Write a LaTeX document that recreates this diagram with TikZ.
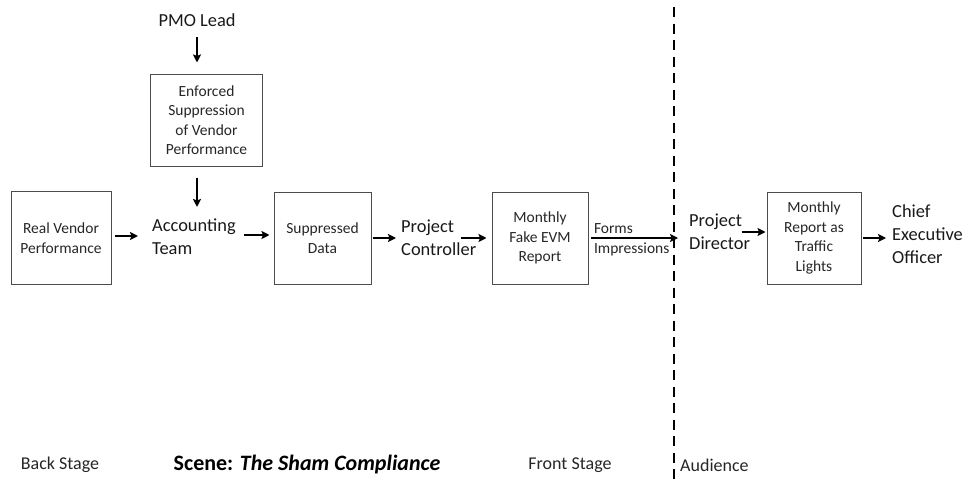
\documentclass[tikz,border=0pt]{standalone}
\usepackage{fontspec}
\setmainfont{Carlito}
\usepackage{tikz}
\usetikzlibrary{positioning,arrows.meta}

\begin{document}
\begin{tikzpicture}[
    x=1pt, y=-1pt,
    >={Stealth[length=8pt,width=8pt,inset=1.5pt]},
    box/.style={draw=black!70, line width=1pt, align=center, text=black!85,
                font=\fontsize{15.5}{19.5}\selectfont, inner sep=2pt},
    actor/.style={align=left, inner sep=0pt, text=black!90,
                  font=\fontsize{18.4}{22.8}\selectfont},
    stage/.style={inner sep=0pt, text=black!85, font=\fontsize{18}{21}\selectfont},
    arrow/.style={->, line width=2pt, black},
    tag/.style={inner sep=3.5pt, xshift=1pt, text=black!85,
                font=\fontsize{15.5}{18}\selectfont},
]
    \useasboundingbox (0,0) rectangle (964,479);

    % Back stage chain
    \node[box, minimum width=100pt, minimum height=93pt] (real) at (61,238) {Real Vendor\\Performance};
    \node[actor, anchor=west] (acct) at (152,237) {Accounting\\Team};
    \node[box, minimum width=112pt, minimum height=92pt] (enforced) at (206.5,120) {Enforced\\Suppression\\of Vendor\\Performance};
    \node[actor, anchor=south] (pmo) at (197,26.5) {PMO Lead};
    \node[box, minimum width=97pt, minimum height=92pt] (supp) at (322.5,238) {Suppressed\\Data};
    \node[actor, anchor=west] (ctrl) at (401,238) {Project\\Controller};

    % Front stage
    \node[box, minimum width=96pt, minimum height=92pt] (fake) at (540,238) {Monthly\\Fake EVM\\Report};

    % Audience
    \node[actor, anchor=west] (dir) at (689,232) {Project\\Director};
    \node[box, minimum width=94pt, minimum height=92pt] (lights) at (814,238) {Monthly\\Report as\\Traffic\\Lights};
    \node[actor, anchor=west] (ceo) at (892,234) {Chief\\Executive\\Officer};

    % Stage divider
    \coordinate (divtop) at (674,7);
    \coordinate (divbot) at (674,479);
    \draw[line width=2.5pt, dash pattern=on 10pt off 6.5pt] (divtop) -- (divbot);

    % Stage labels
    \node[stage] (back)  at (60,465)  {Back Stage};
    \node[stage, font=\fontsize{22}{26}\selectfont\bfseries, text=black] (scene) at (307,465) {Scene: \textit{The Sham Compliance}};
    \node[stage] (front) at (570,465) {Front Stage};
    \node[stage, anchor=west] (aud) at (680,465) {Audience};

    % Arrows
    \draw[arrow, shorten <=10pt, shorten >=11pt] (pmo.south) -- (pmo.south |- enforced.north);
    \draw[arrow, shorten <=11pt, shorten >=12pt] (enforced.south -| pmo) -- (acct.north -| pmo);
    \draw[arrow, shorten <=3pt, shorten >=14pt] ([yshift=2pt]real.east) -- ([yshift=2pt]real.east -| acct.west);
    \draw[arrow, shorten <=8pt, shorten >=4pt] ([yshift=2pt]acct.east) -- ([yshift=2pt]acct.east -| supp.west);
    \draw[arrow, shorten <=1pt, shorten >=5pt] (supp.east) -- (supp.east -| ctrl.west);
    \draw[arrow, shorten <=-15pt, shorten >=5pt] (ctrl.east) -- (ctrl.east -| fake.west);
    \draw[arrow, shorten <=2pt, shorten >=11pt] (fake.east) -- (fake.east -| dir.west)
        node[tag, pos=0, above right] (forms) {Forms}
        node[tag, pos=0, below right] (impr) {Impressions};
    \draw[arrow, shorten <=-8pt, shorten >=1pt] (dir.east) -- (dir.east -| lights.west);
    \draw[arrow, shorten <=1pt, shorten >=6pt] (lights.east) -- (lights.east -| ceo.west);
\end{tikzpicture}
\end{document}
